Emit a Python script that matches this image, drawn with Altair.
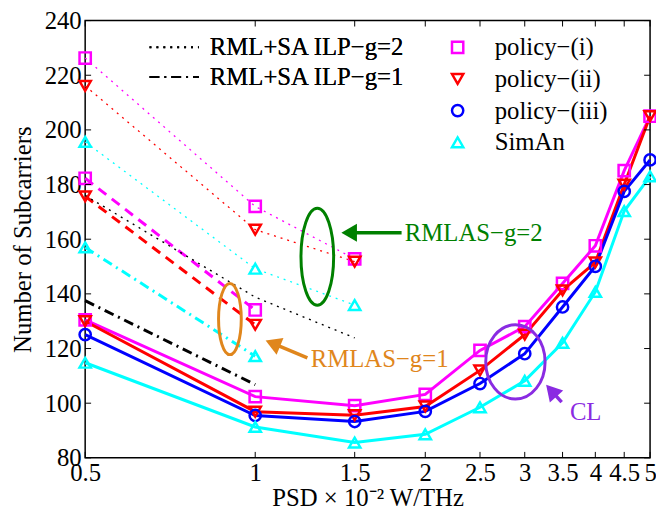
import altair as alt
import pandas as pd

# PSD values (x 10^-2 W/THz) and axis ticks
psd = [0.5, 1, 1.5, 2, 2.5, 3, 3.5, 4, 4.5, 5]
psd_g2 = [0.5, 1, 1.5]
psd_g1 = [0.5, 1]
x_ticks = [0.5, 1, 1.5, 2, 2.5, 3, 3.5, 4, 4.5, 5]
y_ticks = [80, 100, 120, 140, 160, 180, 200, 220, 240]

policy_names = ["policy−(i)", "policy−(ii)", "policy−(iii)", "SimAn"]
policy_colors = ["#ff00ff", "#ff0000", "#0000ff", "#00ffff"]
policy_shapes = ["square", "triangle-down", "circle", "triangle-up"]

# CL (solid lines)
cl_i = [130.5, 102.4, 99.1, 103.2, 119.3, 128.0, 143.8, 157.6, 185.1, 205.0]
cl_ii = [130.0, 96.9, 95.6, 98.8, 112.0, 125.1, 141.3, 151.5, 180.0, 205.0]
cl_iii = [125.1, 95.5, 93.3, 97.0, 107.2, 118.1, 135.2, 150.1, 177.5, 189.0]
cl_siman = [114.8, 91.3, 85.6, 88.6, 98.5, 108.2, 122.1, 140.7, 170.3, 183.0]

# RMLAS g=2 (dotted)
g2_i = [226.3, 172.0, 152.8]
g2_ii = [216.1, 163.5, 151.8]
g2_siman = [195.6, 149.2, 135.9]

# RMLAS g=1 (dashed / dash-dot)
g1_i = [182.3, 134.1]
g1_ii = [175.7, 128.7]
g1_siman = [157.0, 117.2]

# RML+SA ILP (black)
ilp_names = ["RML+SA ILP−g=2", "RML+SA ILP−g=1"]
ilp_g2 = [176.0, 138.8, 123.9]
ilp_g1 = [137.5, 106.8]

# annotations
ann_text = ["RMLAS−g=2", "RMLAS−g=1", "CL"]
ann_colors = ["#008000", "#e0861c", "#8a2be2"]
ann_text_x = [1.84, 1.254, 3.606]
ann_text_y = [162.4, 116.0, 96.7]
ell_x = [1.288, 0.902, 2.888]
ell_y = [153.6, 130.8, 115.1]
ell_w = [33, 23, 60]
ell_h = [98, 72, 75]
arrow_tail_x = [1.816, 1.237, 3.487]
arrow_tail_y = [162.4, 116.6, 100.4]
arrow_head_x = [1.482, 1.085, 3.367]
arrow_head_y = [162.4, 121.5, 103.9]
arrow_angle = [270, 292.5, 318]

FONT = "Liberation Serif, Times New Roman, serif"
W, H = 571, 442

rows = []
def add(name, style, xs, ys):
    for x, y in zip(xs, ys):
        rows.append({"Policy": name, "Style": style, "PSD": x, "N": y})

for name, ys in zip(policy_names, [cl_i, cl_ii, cl_iii, cl_siman]):
    add(name, "solid", psd, ys)
for name, ys in zip([policy_names[0], policy_names[1], policy_names[3]], [g2_i, g2_ii, g2_siman]):
    add(name, "g2", psd_g2, ys)
add(policy_names[0], "g1", psd_g1, g1_i)
add(policy_names[1], "g1", psd_g1, g1_ii)
add(policy_names[3], "g1dd", psd_g1, g1_siman)
df = pd.DataFrame(rows)

ilp_rows = []
for x, y in zip(psd_g2, ilp_g2):
    ilp_rows.append({"Method": ilp_names[0], "PSD": x, "N": y})
for x, y in zip(psd_g1, ilp_g1):
    ilp_rows.append({"Method": ilp_names[1], "PSD": x, "N": y})
ilp_df = pd.DataFrame(ilp_rows)

x_enc = alt.X("PSD:Q",
              scale=alt.Scale(type="log", domain=[0.5, 5], nice=False),
              axis=alt.Axis(values=x_ticks, format="~g", title="PSD × 10⁻² W/THz",
                            labelFlush=False, labelOverlap=False, labelPadding=3,
                            titleY=48, titleBaseline="alphabetic"))
y_enc = alt.Y("N:Q",
              scale=alt.Scale(domain=[80, 240], nice=False, zero=False),
              axis=alt.Axis(values=y_ticks, title="Number of Subcarriers",
                            labelPadding=4, titleX=-63, titleBaseline="middle"))
color_nolegend = alt.Color("Policy:N", scale=alt.Scale(domain=policy_names, range=policy_colors), legend=None)

leg_policy = alt.Legend(orient="none", legendX=364, legendY=12, title=None, padding=0,
                        labelFont=FONT, labelFontSize=25, labelColor="black", labelLimit=400,
                        symbolSize=130, symbolStrokeWidth=2.5, clipHeight=30, rowPadding=2,
                        labelOffset=25)
leg_ilp = alt.Legend(orient="none", legendX=64, legendY=13, title=None, padding=0,
                     labelFont=FONT, labelFontSize=25, labelColor="black", labelLimit=400,
                     symbolSize=2500, symbolStrokeWidth=2, symbolStrokeColor="black",
                     clipHeight=28, rowPadding=2, labelOffset=10)

base = alt.Chart(df)

def style_lines(style, **mark):
    return base.transform_filter(alt.datum.Style == style).mark_line(**mark).encode(
        x=x_enc, y=y_enc, color=color_nolegend, detail="Policy:N")

g2_lines = style_lines("g2", strokeWidth=1.3, strokeDash=[2, 5])
g1_lines = style_lines("g1", strokeWidth=3, strokeDash=[10, 7])
g1dd_lines = style_lines("g1dd", strokeWidth=3, strokeDash=[10, 5, 2, 5])
solid_lines = style_lines("solid", strokeWidth=3)

dash_enc = alt.StrokeDash("Method:N", scale=alt.Scale(domain=ilp_names, range=[[2, 5], [10, 5, 2, 5]]),
                          legend=leg_ilp)
ilp_lines_g2 = alt.Chart(ilp_df).transform_filter(alt.datum.Method == ilp_names[0]).mark_line(
    color="black", strokeWidth=1.4).encode(x=x_enc, y=y_enc, strokeDash=dash_enc)
ilp_lines_g1 = alt.Chart(ilp_df).transform_filter(alt.datum.Method == ilp_names[1]).mark_line(
    color="black", strokeWidth=3).encode(x=x_enc, y=y_enc, strokeDash=dash_enc)

points = base.mark_point(filled=False, size=130, strokeWidth=2.5, opacity=1).encode(
    x=x_enc, y=y_enc,
    color=alt.Color("Policy:N", scale=alt.Scale(domain=policy_names, range=policy_colors), legend=leg_policy),
    shape=alt.Shape("Policy:N", scale=alt.Scale(domain=policy_names, range=policy_shapes), legend=leg_policy),
)

def ellipse_path(rx):
    k = 0.5523
    a = rx
    return (f"M0,-1C{k*a:.3f},-1 {a:.3f},{-k:.3f} {a:.3f},0"
            f"C{a:.3f},{k:.3f} {k*a:.3f},1 0,1"
            f"C{-k*a:.3f},1 {-a:.3f},{k:.3f} {-a:.3f},0"
            f"C{-a:.3f},{-k:.3f} {-k*a:.3f},-1 0,-1Z")

annotations = []
for i in range(len(ann_text)):
    c = ann_colors[i]
    one = pd.DataFrame({"PSD": [ell_x[i]], "N": [ell_y[i]]})
    annotations.append(alt.Chart(one).mark_point(
        shape=ellipse_path(ell_w[i] / ell_h[i]), size=ell_h[i] ** 2, filled=False,
        color=c, strokeWidth=3, opacity=1).encode(x=x_enc, y=y_enc))
    shaft = pd.DataFrame({"PSD": [arrow_tail_x[i]], "N": [arrow_tail_y[i]],
                          "PSD2": [arrow_head_x[i]], "N2": [arrow_head_y[i]]})
    annotations.append(alt.Chart(shaft).mark_rule(color=c, strokeWidth=3.5).encode(
        x=x_enc, y=y_enc, x2="PSD2:Q", y2="N2:Q"))
    head = pd.DataFrame({"PSD": [arrow_head_x[i]], "N": [arrow_head_y[i]]})
    annotations.append(alt.Chart(head).mark_point(
        shape="triangle", size=330, filled=True, color=c, opacity=1, angle=arrow_angle[i]).encode(
        x=x_enc, y=y_enc))
    lab = pd.DataFrame({"PSD": [ann_text_x[i]], "N": [ann_text_y[i]], "label": [ann_text[i]]})
    annotations.append(alt.Chart(lab).mark_text(
        align="left", baseline="middle", font=FONT, fontSize=25, color=c).encode(
        x=x_enc, y=y_enc, text="label:N"))

# inward ticks on all four sides
ytick_df = pd.DataFrame({"N": y_ticks})
xtick_df = pd.DataFrame({"PSD": x_ticks})
ticks = [
    alt.Chart(ytick_df).mark_rule(color="black").encode(y=y_enc, x=alt.value(0), x2=alt.value(6)),
    alt.Chart(ytick_df).mark_rule(color="black").encode(y=y_enc, x=alt.value(W - 6), x2=alt.value(W)),
    alt.Chart(xtick_df).mark_rule(color="black").encode(x=x_enc, y=alt.value(H - 6), y2=alt.value(H)),
    alt.Chart(xtick_df).mark_rule(color="black").encode(x=x_enc, y=alt.value(0), y2=alt.value(6)),
]

chart = alt.layer(
    g2_lines, g1_lines, g1dd_lines, ilp_lines_g2, ilp_lines_g1, solid_lines, points,
    *annotations, *ticks
).resolve_legend(
    color="independent", shape="independent", strokeDash="independent"
).properties(
    width=W, height=H,
    padding={"left": 78, "top": 10, "right": 6, "bottom": 50},
    autosize=alt.AutoSizeParams(type="none"),
    background="white",
).configure_axis(
    labelFont=FONT, labelFontSize=25, labelColor="black",
    titleFont=FONT, titleFontSize=25, titleColor="black", titleFontWeight="normal",
    grid=False, domain=False, ticks=False,
).configure_view(stroke="black", strokeWidth=1.5)

chart.save("out.html", embed_options={"renderer": "svg", "actions": False})
